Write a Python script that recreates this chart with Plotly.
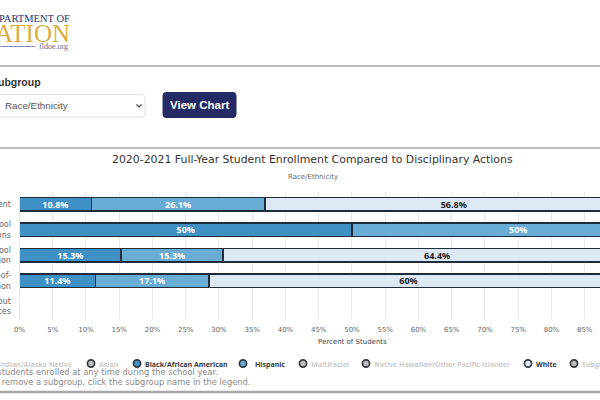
import plotly.graph_objects as go

actions = ["Enrollment", "School<br>Actions", "In-School<br>Suspension", "Out-of-<br>Suspension", "Without<br>Services"]
black = [10.8, 50, 15.3, 11.4, None]
hispanic = [26.1, 50, 15.3, 17.1, None]
white = [56.8, None, 64.4, 60, None]
x_ticks = list(range(0, 90, 5))
x_labels = [f"{t}%" for t in x_ticks]

W, H = 600, 400
def px(x): return x / W
def py(y): return 1 - y / H

def note(x, y, text, size=9, color="#666666", family="DejaVu Sans", anchor="center"):
    return dict(x=px(x), y=py(y), xref="paper", yref="paper", text=text, showarrow=False,
                xanchor=anchor, yanchor="middle", borderpad=0, borderwidth=0,
                font=dict(size=size, color=color, family=family))

def line(x0, y0, x1, y1, color="#a8a8a8", width=1.5):
    return dict(type="line", xref="paper", yref="paper", x0=px(x0), y0=py(y0), x1=px(x1), y1=py(y1),
                line=dict(color=color, width=width))

def rounded(x0, y0, x1, y1, r, fill, border, width=1):
    l, r_, t, b = px(x0), px(x1), py(y0), py(y1)
    rx, ry = r / W, r / H
    d = (f"M {l+rx} {t} L {r_-rx} {t} Q {r_} {t} {r_} {t-ry} L {r_} {b+ry} Q {r_} {b} {r_-rx} {b} "
         f"L {l+rx} {b} Q {l} {b} {l} {b+ry} L {l} {t-ry} Q {l} {t} {l+rx} {t} Z")
    return dict(type="path", xref="paper", yref="paper", path=d, fillcolor=fill, line=dict(color=border, width=width))

def circle(cx, cy, fill, r=3.6):
    return dict(type="circle", xref="paper", yref="paper", x0=px(cx-r), x1=px(cx+r), y0=py(cy+r), y1=py(cy-r),
                fillcolor=fill, line=dict(color="#333a42", width=1.7))

edge = dict(color="#1e2b3a", width=1.6)
fig = go.Figure()
for vals, color, tc in [(black, "#3f90c5", "#ffffff"), (hispanic, "#69acd6", "#ffffff"), (white, "#dce8f4", "#222222")]:
    fig.add_trace(go.Bar(
        y=actions, x=vals, orientation="h", marker=dict(color=color, line=edge),
        text=[f"<b>{v}%</b>" if v is not None else "" for v in vals], textposition="inside",
        insidetextanchor="middle", textangle=0, constraintext="none",
        textfont=dict(size=9, color=tc, family="Open Sans"), showlegend=False,
    ))

shapes = [
    line(-5, 66, 605, 66), line(-5, 148, 605, 148), line(-5, 392, 605, 392, width=2.5),
    rounded(-8, 94.5, 145, 117, 3, "#ffffff", "#e2e2e2"),
    rounded(163, 92.5, 236, 117.5, 3, "#242a63", "#242a63"),
    line(-5, 46.5, 35, 46.5, "#7f8fb8", 1),
    dict(type="path", xref="paper", yref="paper",
         path=f"M {px(136.5)} {py(104.5)} L {px(139)} {py(107)} L {px(141.5)} {py(104.5)}",
         line=dict(color="#444444", width=1.2)),
]
legend_items = [
    (91, "#bdbdbd", 99, "Asian", "#cccccc"),
    (137, "#3f90c5", 145, "Black/African American", "#333a42"),
    (243, "#69acd6", 255, "Hispanic", "#333a42"),
    (303, "#bdbdbd", 311, "Multiracial", "#cccccc"),
    (366, "#bdbdbd", 374, "Native Hawaiian/Other Pacific Islander", "#cccccc"),
    (528, "#dce8f4", 536, "White", "#333a42"),
    (574, "#bdbdbd", 582, "Subgroup", "#cccccc"),
]
annotations = [
    note(70, 18, "DEPARTMENT OF", 10.5, "#26346e", "Liberation Serif", "right"),
    note(70, 33, "EDUCATION", 25, "#d9ae45", "Liberation Serif", "right"),
    note(68, 46, "fldoe.org", 8, "#5a6a94", "Liberation Serif", "right"),
    note(41, 82, "<b>Subgroup</b>", 10.5, "#333333", "Liberation Sans", "right"),
    note(5, 105.5, "Race/Ethnicity", 9.8, "#555555", "Liberation Sans", "left"),
    note(199.5, 104.5, "<b>View Chart</b>", 11.5, "#ffffff", "Liberation Sans"),
    note(313, 159, "2020-2021 Full-Year Student Enrollment Compared to Disciplinary Actions", 10.9, "#333333"),
    note(313, 177, "Race/Ethnicity", 7, "#666666"),
    note(352, 342, "Percent of Students", 7, "#444444"),
    note(72, 364, "<b>American Indian/Alaska Native</b>", 7, "#cccccc", "Open Sans", "right"),
    note(218, 371.5, "*Includes students enrolled at any time during the school year.", 8.3, "#888888", anchor="right"),
    note(250, 382, "To add or remove a subgroup, click the subgroup name in the legend.", 8.3, "#888888", anchor="right"),
]
for mx, fill, tx, label, col in legend_items:
    shapes.append(circle(mx, 363.5, fill))
    annotations.append(note(tx, 364, f"<b>{label}</b>", 7, col, "Open Sans", "left"))

fig.update_layout(
    barmode="stack", bargap=0.47, width=W, height=H, margin=dict(l=0, r=0, t=0, b=0, autoexpand=False),
    paper_bgcolor="#ffffff", plot_bgcolor="#ffffff", shapes=shapes, annotations=annotations, showlegend=False,
)
fig.update_xaxes(range=[0, 87.3], domain=[px(19.5), 1], tickvals=x_ticks, ticktext=x_labels, side="bottom",
                 showgrid=True, gridcolor="#e8e8e8", gridwidth=1, zeroline=False, showline=False, automargin=False,
                 tickfont=dict(size=7, color="#666666", family="DejaVu Sans"), ticks="", ticklabelstandoff=5)
fig.update_yaxes(categoryorder="array", categoryarray=actions, autorange=False, range=[4.5, -0.5], automargin=False,
                 domain=[py(319), py(191.5)], showgrid=False, zeroline=False, showline=True, linecolor="#e8e8e8",
                 tickfont=dict(size=8, color="#666666", family="DejaVu Sans"), ticks="", ticklabelstandoff=6)

# page has a default body margin, drop it so the figure sits at 0,0
fig.write_html("out.html", config=dict(displayModeBar=False),
               post_script="document.body.style.margin='0';document.body.style.overflow='hidden';")
